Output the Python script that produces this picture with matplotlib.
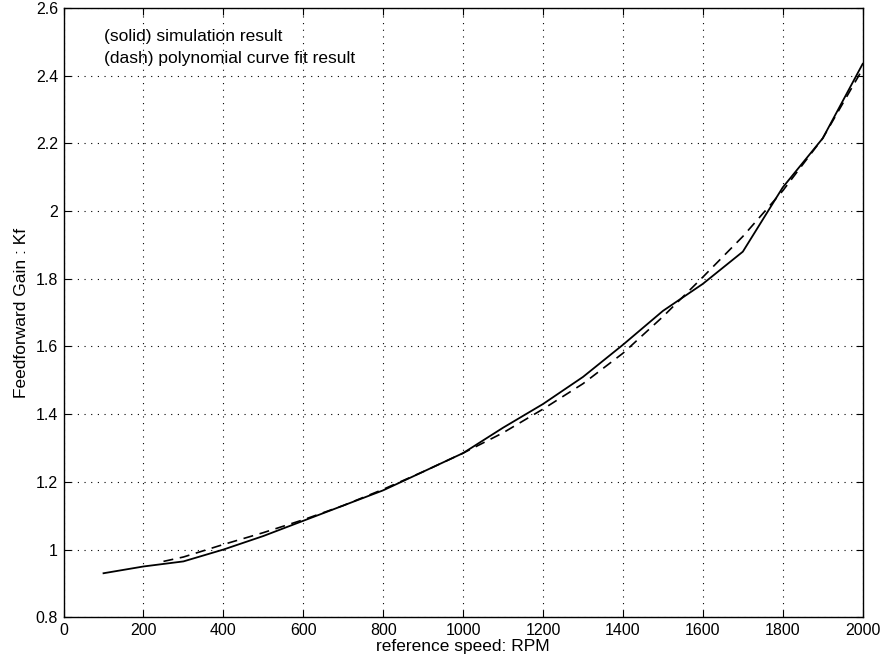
"""Feedforward gain vs reference speed: simulation and polynomial fit."""

import matplotlib

matplotlib.use("Agg")
import matplotlib.pyplot as plt

plt.rcParams["font.family"] = ["Liberation Sans", "DejaVu Sans"]

# simulation result (solid)
sim_rpm = [100, 200, 300, 400, 500, 600, 700, 800, 900, 1000,
           1100, 1200, 1300, 1400, 1500, 1600, 1700, 1800, 1900, 2000]
sim_kf = [0.93, 0.95, 0.965, 1.0, 1.04, 1.085, 1.13, 1.175, 1.23, 1.285,
          1.36, 1.43, 1.51, 1.605, 1.705, 1.785, 1.88, 2.07, 2.215, 2.435]

# polynomial curve fit (dash)
fit_rpm = [250, 300, 400, 500, 600, 700, 800, 900, 1000, 1100,
           1200, 1300, 1400, 1500, 1600, 1700, 1800, 1900, 2000]
fit_kf = [0.965, 0.978, 1.015, 1.05, 1.088, 1.13, 1.178, 1.23, 1.285, 1.345,
          1.415, 1.49, 1.58, 1.688, 1.805, 1.925, 2.06, 2.215, 2.42]

x_ticks = list(range(0, 2001, 200))
y_ticks = [0.8, 1.0, 1.2, 1.4, 1.6, 1.8, 2.0, 2.2, 2.4, 2.6]
y_tick_labels = ["0.8", "1", "1.2", "1.4", "1.6", "1.8", "2", "2.2", "2.4", "2.6"]

fig = plt.figure(figsize=(8.83, 6.63), dpi=100)
ax = fig.add_axes([0.072, 0.069, 0.905, 0.919])

ax.plot(sim_rpm, sim_kf, color="black", linewidth=1.3, linestyle="-")
ax.plot(fit_rpm, fit_kf, color="black", linewidth=1.2, linestyle=(0, (6, 4)))

ax.set_xlim(0, 2000)
ax.set_ylim(0.8, 2.6)
ax.set_xticks(x_ticks)
ax.set_yticks(y_ticks)
ax.set_yticklabels(y_tick_labels)
ax.tick_params(direction="in", top=True, right=True, labelsize=11.5, length=5, pad=4)
ax.grid(True, color="black", linestyle=(0, (1, 5)), linewidth=0.8)
for spine in ax.spines.values():
    spine.set_linewidth(1.0)

ax.set_xlabel("reference speed: RPM", fontsize=12.5, labelpad=1)
ax.set_ylabel("Feedforward Gain : Kf", fontsize=12.5, labelpad=5)

ax.text(100, 2.517, "(solid) simulation result", fontsize=12.5, va="center")
ax.text(100, 2.452, "(dash) polynomial curve fit result", fontsize=12.5, va="center")

fig.savefig("out.png", dpi=100)
plt.close(fig)
